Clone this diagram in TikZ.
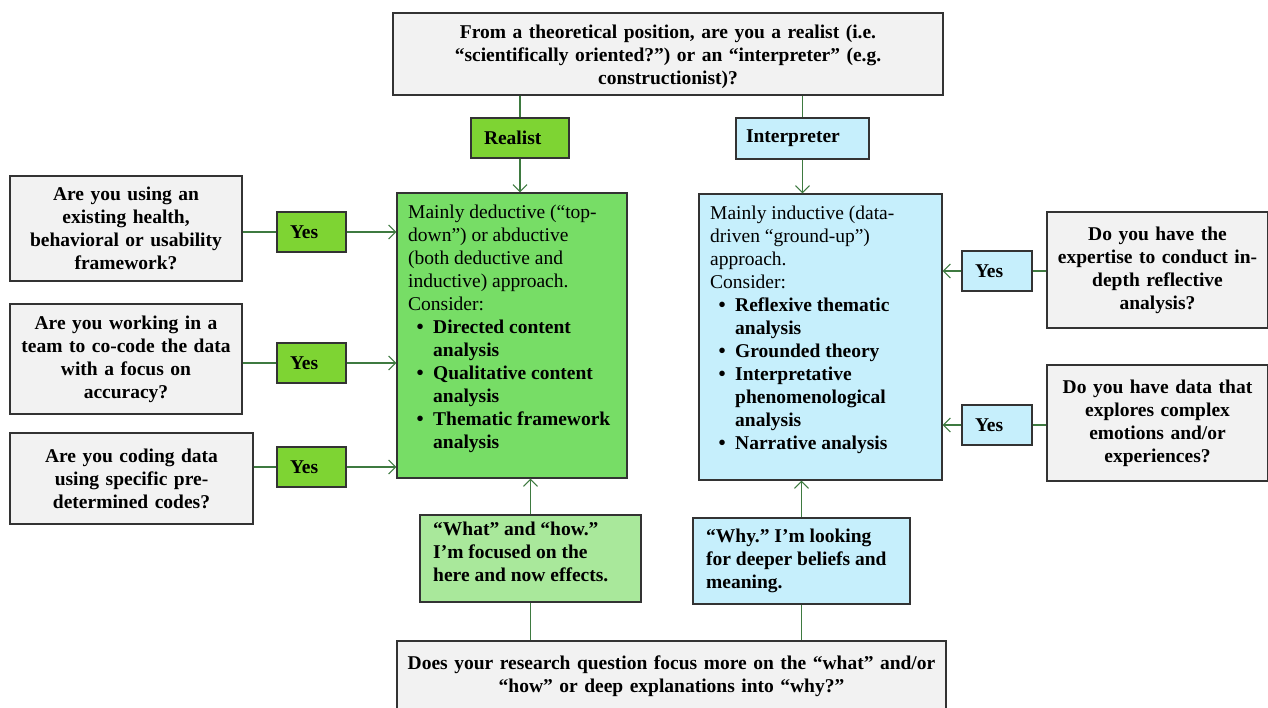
\documentclass[tikz,border=0pt]{standalone}
\usepackage{fontspec}
\setmainfont{Liberation Serif}
\usetikzlibrary{arrows.meta}
\frenchspacing
\definecolor{qgray}{HTML}{F2F2F2}
\definecolor{lime}{HTML}{7ED433}
\definecolor{mgreen}{HTML}{77DD66}
\definecolor{lgreen}{HTML}{A9E89B}
\definecolor{lblue}{HTML}{C6EFFC}
\definecolor{conn}{HTML}{3E7A40}
\newcommand{\bul}[1]{\makebox[25pt][l]{\hspace{8pt}\raisebox{-0.5pt}{\fontsize{23}{23}\selectfont\textbullet}}\textbf{#1}}
\newcommand{\cont}[1]{\hspace*{25pt}\textbf{#1}}
\newcommand{\fs}{\fontsize{19.5}{23}\selectfont}
\tikzset{
  box/.style={draw=black!80, line width=1.3pt, inner sep=0pt, font=\fs},
  qbox/.style={box, fill=qgray, align=center, font=\fs\bfseries},
  txt/.style={inner sep=0pt, anchor=north west, align=left, font=\fs},
  conline/.style={draw=conn, line width=1.1pt},
  arr/.style={conline, -{Straight Barb[length=7pt,width=14pt]}}
}
\begin{document}
\begin{tikzpicture}[x=1pt,y=-1pt]
\useasboundingbox (0,0) rectangle (1268,708);

% top question
\node[qbox, minimum width=550pt, minimum height=82pt] (top) at (668,54) {};
\node[inner sep=0pt, align=center, font=\fs\bfseries, text width=540pt] (toptext) at (668,57)
 {From a theoretical position, are you a realist (i.e.\\ “scientifically oriented?”) or an “interpreter” (e.g.\\ constructionist)?};

% realist / interpreter
\node[box, fill=lime, minimum width=98pt, minimum height=40pt, text width=72pt, align=left, font=\fs\bfseries] (realist) at (520,138) {Realist};
\node[box, fill=lblue, minimum width=133pt, minimum height=41pt, text width=113pt, align=left, font=\fs\bfseries] (interp) at (802.5,138.5) {Interpreter};

% main boxes
\node[box, fill=mgreen, minimum width=230pt, minimum height=285pt] (gmain) at (512,335.5) {};
\node[txt] (gtext) at (408,205) {Mainly deductive (“top-\\ down”) or abductive\\ (both deductive and\\ inductive) approach.\\ Consider:\\
\bul{Directed content}\\ \cont{analysis}\\ \bul{Qualitative content}\\ \cont{analysis}\\ \bul{Thematic framework}\\ \cont{analysis}};

\node[box, fill=lblue, minimum width=243pt, minimum height=286pt] (bmain) at (820.5,337) {};
\node[txt] (btext) at (710,206) {Mainly inductive (data-\\ driven “ground-up”)\\ approach.\\ Consider:\\
\bul{Reflexive thematic}\\ \cont{analysis}\\ \bul{Grounded theory}\\ \bul{Interpretative}\\ \cont{phenomenological}\\ \cont{analysis}\\ \bul{Narrative analysis}};

% left questions
\node[qbox, minimum width=232pt, minimum height=105pt, text width=226pt] (q1) at (126,228.5)
 {Are you using an\\ existing health,\\ behavioral or usability\\ framework?};
\node[qbox, minimum width=232pt, minimum height=110pt, text width=226pt] (q2) at (126,359)
 {Are you working in a\\ team to co-code the data\\ with a focus on\\ accuracy?};
\node[qbox, minimum width=243pt, minimum height=91pt, text width=237pt] (q3) at (131.5,478.5)
 {Are you coding data\\ using specific pre-\\ determined codes?};

\tikzset{yesl/.style={box, fill=lime, minimum width=69pt, minimum height=40pt, text width=43pt, align=left, font=\fs\bfseries},
 yesr/.style={box, fill=lblue, minimum width=70pt, minimum height=40pt, text width=44pt, align=left, font=\fs\bfseries}}
\node[yesl] (y1) at (311.5,232) {Yes};
\node[yesl] (y2) at (311.5,363) {Yes};
\node[yesl] (y3) at (311.5,467) {Yes};

% right questions
\node[qbox, minimum width=221pt, minimum height=116pt, text width=215pt] (r1) at (1157.5,270)
 {Do you have the\\ expertise to conduct in-\\ depth reflective\\ analysis?};
\node[qbox, minimum width=221pt, minimum height=116pt, text width=215pt] (r2) at (1157.5,423)
 {Do you have data that\\ explores complex\\ emotions and/or\\ experiences?};
\node[yesr] (ry1) at (997,271) {Yes};
\node[yesr] (ry2) at (997,425) {Yes};

% bottom boxes
\node[box, fill=lgreen, minimum width=221pt, minimum height=87pt] (bg) at (530.5,558.5) {};
\node[txt, font=\fs\bfseries] (bgt) at (433,522) {“What” and “how.”\\ I’m focused on the\\ here and now effects.};
\node[box, fill=lblue, minimum width=217pt, minimum height=86pt] (bb) at (801.5,561) {};
\node[txt, font=\fs\bfseries] (bbt) at (706,529) {“Why.” I’m looking\\ for deeper beliefs and\\ meaning.};

\node[qbox, minimum width=549pt, minimum height=68pt] (bot) at (671.5,675) {};
\node[inner sep=0pt, align=center, font=\fs\bfseries, text width=543pt] (bottext) at (671.5,676)
 {Does your research question focus more on the “what” and/or\\ “how” or deep explanations into “why?”};

% connectors
\draw[conline] (realist.north |- top.south) -- (realist.north);
\draw[arr] (realist.south) -- (realist.south |- gmain.north);
\draw[conline] (interp.north |- top.south) -- (interp.north);
\draw[arr] (interp.south) -- (interp.south |- bmain.north);

\draw[conline] (q1.east |- y1.west) -- (y1.west);
\draw[arr] (y1.east) -- (gmain.west |- y1.east);
\draw[conline] (q2.east |- y2.west) -- (y2.west);
\draw[arr] (y2.east) -- (gmain.west |- y2.east);
\draw[conline] (q3.east |- y3.west) -- (y3.west);
\draw[arr] (y3.east) -- (gmain.west |- y3.east);

\draw[conline] (r1.west |- ry1.east) -- (ry1.east);
\draw[arr] (ry1.west) -- (bmain.east |- ry1.west);
\draw[conline] (r2.west |- ry2.east) -- (ry2.east);
\draw[arr] (ry2.west) -- (bmain.east |- ry2.west);

\draw[conline] (bg.south |- bot.north) -- (bg.south);
\draw[arr] (bg.north) -- (bg.north |- gmain.south);
\draw[conline] (bb.south |- bot.north) -- (bb.south);
\draw[arr] (bb.north) -- (bb.north |- bmain.south);
\end{tikzpicture}
\end{document}
